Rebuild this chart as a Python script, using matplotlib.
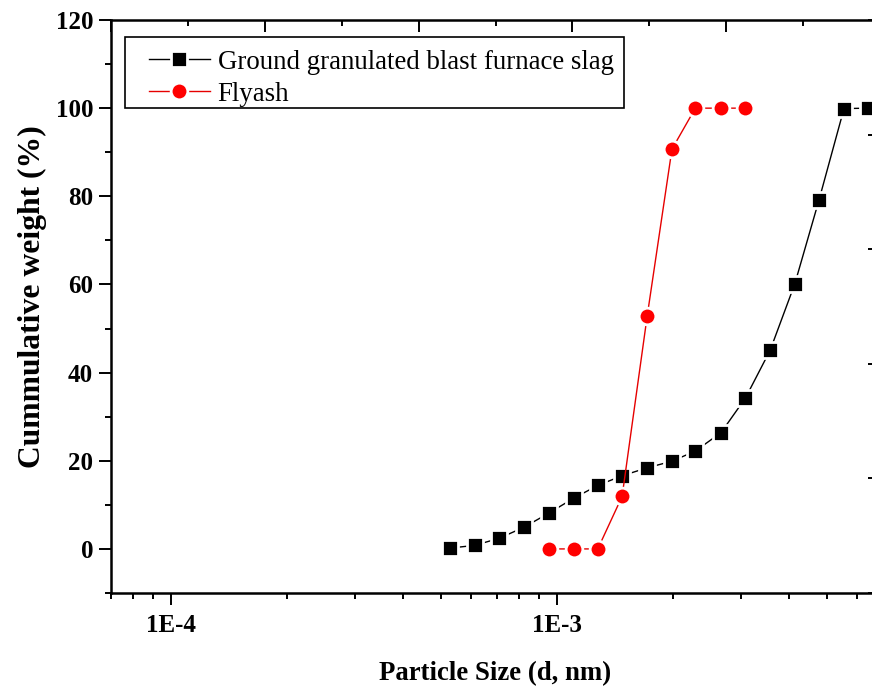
import matplotlib
matplotlib.use('Agg')
import matplotlib.pyplot as plt
from matplotlib.ticker import MultipleLocator, LogLocator, FuncFormatter, NullFormatter
from matplotlib.legend_handler import HandlerLine2D
from matplotlib.lines import Line2D
from matplotlib.patches import Rectangle
import numpy as np

plt.rcParams['font.family'] = ['Liberation Serif', 'DejaVu Serif']
plt.rcParams['axes.unicode_minus'] = False

# particle size distribution data
ggbfs_size = [5.30e-4, 6.12e-4, 7.08e-4, 8.21e-4, 9.52e-4, 1.105e-3, 1.276e-3,
              1.475e-3, 1.713e-3, 1.986e-3, 2.283e-3, 2.662e-3, 3.077e-3,
              3.568e-3, 4.134e-3, 4.771e-3, 5.54e-3, 6.375e-3]
ggbfs_cum = [0.2, 0.8, 2.4, 4.9, 8.1, 11.5, 14.4, 16.6, 18.4, 19.9, 22.2,
             26.4, 34.2, 45.1, 60.2, 79.1, 99.9, 100]

fly_size = [9.52e-4, 1.105e-3, 1.276e-3, 1.475e-3, 1.713e-3, 1.986e-3,
            2.283e-3, 2.662e-3, 3.077e-3]
fly_cum = [0, 0, 0, 11.9, 52.8, 90.7, 100, 100, 100]

labels = ['Ground granulated blast furnace slag', 'Flyash']

W, H = 872, 688
fig = plt.figure(figsize=(W / 100, H / 100), dpi=100)
ax = fig.add_axes([111 / W, 1 - 593 / H, 769 / W, 573 / H])

ax.plot(ggbfs_size, ggbfs_cum, '-', color='black', lw=1.0, marker='s',
        ms=11, mfc='black', mec='white', mew=2, label=labels[0], zorder=3)
ax.plot(fly_size, fly_cum, '-', color='#e60000', lw=1.0, marker='o',
        ms=12, mfc='#ff0000', mec='white', mew=2, label=labels[1], zorder=4)

ax.set_xscale('log')
ax.set_xlim(7e-5, 10 ** (-3 + (880 - 557) / 386))
ax.set_ylim(-10, 120)

ax.xaxis.set_major_locator(LogLocator(base=10))
ax.xaxis.set_minor_locator(LogLocator(base=10, subs=np.arange(2, 10)))
ax.xaxis.set_major_formatter(FuncFormatter(lambda v, p: '1E%d' % round(np.log10(v))))
ax.xaxis.set_minor_formatter(NullFormatter())
ax.yaxis.set_major_locator(MultipleLocator(20))
ax.yaxis.set_minor_locator(MultipleLocator(10))

ax.tick_params(which='both', direction='out', top=False, right=False, width=1.4)
ax.tick_params(which='major', length=8.4)
ax.tick_params(which='minor', length=4.3)
ax.tick_params(axis='x', which='major', pad=7, labelsize=18)
ax.tick_params(axis='y', which='major', pad=4.5, labelsize=18)
for t in ax.get_xticklabels() + ax.get_yticklabels():
    t.set_fontweight('bold')
for s in ax.spines.values():
    s.set_linewidth(1.8)

ax.set_xlabel('Particle Size (d, nm)', fontsize=19.3, fontweight='bold', labelpad=17)
ax.set_ylabel('Cummulative weight (%)', fontsize=22.8, fontweight='bold')
ax.yaxis.set_label_coords(-0.083, 0.5166)

# a tiny blank title pushes the entries down; frame drawn by hand below
leg = ax.legend(loc='upper left', bbox_to_anchor=(14 / 769, 1 - 17 / 573),
                borderaxespad=0, frameon=False,
                fontsize=19.4, handlelength=3.1, handletextpad=0.3,
                labelspacing=0.25, borderpad=0.04, title=' ', title_fontsize=4,
                handler_map={Line2D: HandlerLine2D(xpad=0.85)})

# box ticks on top and right (Origin style, independent spacing)
ax2 = fig.add_axes(ax.get_position(), frameon=False)
ax2.set_xlim(0, 10)
ax2.set_ylim(0, 5)
ax2.xaxis.set_major_locator(MultipleLocator(2))
ax2.xaxis.set_minor_locator(MultipleLocator(1))
ax2.yaxis.set_major_locator(MultipleLocator(1))
ax2.tick_params(which='both', direction='in', top=True, right=True, bottom=False,
                left=False, labeltop=False, labelright=False, labelbottom=False,
                labelleft=False, width=1.4)
ax2.tick_params(which='major', length=8.4)
ax2.tick_params(which='minor', length=4.3)

# legend frame with a little extra room on the right, like the original
fig.canvas.draw()
bb = leg.get_window_extent().transformed(fig.transFigure.inverted())
frame = Rectangle((bb.x0, bb.y0), bb.width + 9 / W, bb.height,
                  transform=fig.transFigure, fill=False, edgecolor='black',
                  lw=1.2, zorder=10)
fig.patches.append(frame)

fig.savefig('out.png', dpi=100)
